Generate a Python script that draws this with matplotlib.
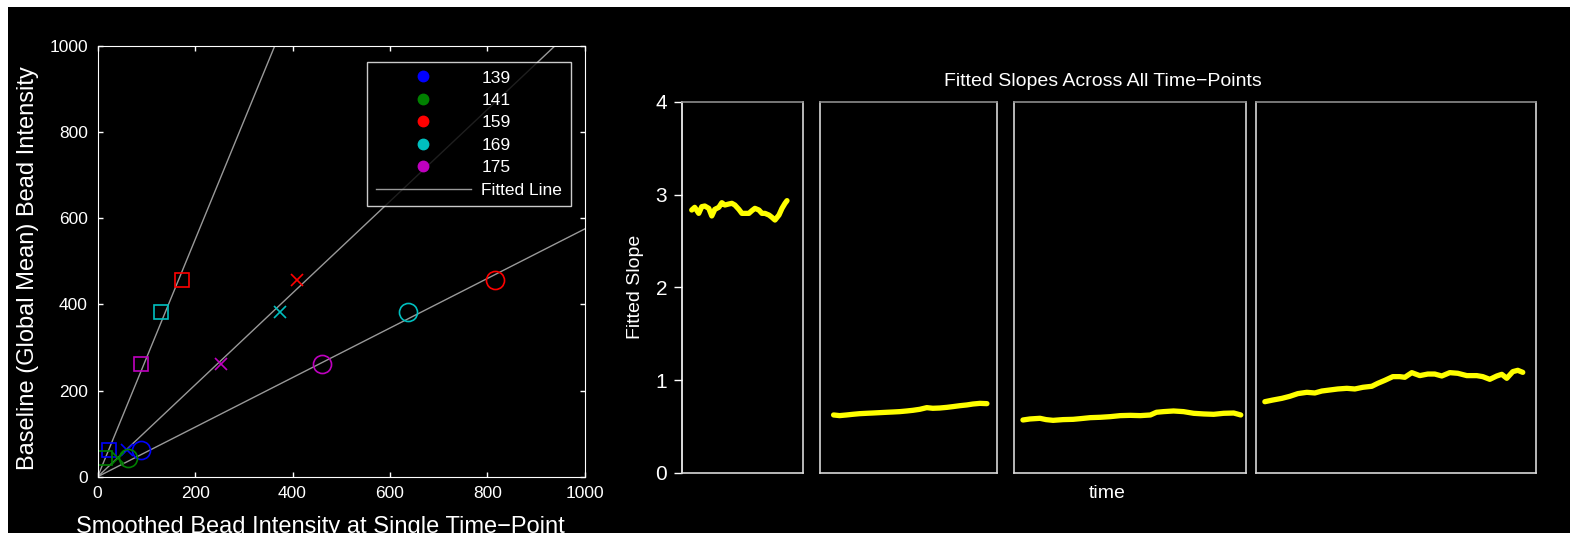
import matplotlib

matplotlib.use("Agg")
import matplotlib.pyplot as plt
from matplotlib import font_manager
from matplotlib.lines import Line2D
from matplotlib.patches import Rectangle
import numpy as np

# bead intensities: baseline vs. smoothed single time-point, three time-points
BEADS = ["139", "141", "159", "169", "175"]
BEAD_COLORS = ["#0000ff", "#008000", "#ff0000", "#00bfbf", "#bf00bf"]
BASELINE = [63, 44, 456, 383, 262]
SMOOTHED_SQUARE = [24, 15, 174, 130, 90]
SMOOTHED_CROSS = [60, 42, 410, 375, 254]
SMOOTHED_CIRCLE = [89, 63, 816, 637, 460]
FIT_SLOPES = [2.75, 1.065, 0.575]

# fitted slope traces, one list per time segment
SEG1_T = [0, 3, 7, 10, 13, 17, 20, 23, 27, 30, 33, 37, 40, 43, 47, 50, 53, 57,
          60, 63, 67, 70, 73, 77, 80, 83, 87, 90, 93, 95]
SEG1_SLOPE = [2.833, 2.862, 2.797, 2.869, 2.876, 2.851, 2.769, 2.840, 2.862,
              2.912, 2.887, 2.898, 2.905, 2.887, 2.840, 2.797, 2.797, 2.797,
              2.826, 2.851, 2.833, 2.797, 2.797, 2.779, 2.754, 2.725, 2.779,
              2.851, 2.905, 2.934]
SEG2_T = [0, 6, 13, 19, 26, 33, 39, 46, 53, 59, 66, 73, 79, 86, 93, 99, 106,
          113, 119, 126, 133, 139, 146, 153]
SEG2_SLOPE = [0.625, 0.618, 0.625, 0.632, 0.639, 0.643, 0.646, 0.650, 0.654,
              0.657, 0.661, 0.668, 0.675, 0.686, 0.704, 0.697, 0.700, 0.707,
              0.715, 0.725, 0.733, 0.743, 0.750, 0.747]
SEG3_T = [0, 7, 17, 23, 30, 40, 50, 57, 67, 77, 87, 97, 107, 117, 127, 133,
          140, 150, 160, 170, 180, 190, 200, 210, 217]
SEG3_SLOPE = [0.571, 0.582, 0.589, 0.575, 0.567, 0.575, 0.578, 0.585, 0.596,
              0.600, 0.607, 0.618, 0.621, 0.618, 0.625, 0.654, 0.661, 0.668,
              0.661, 0.643, 0.636, 0.632, 0.643, 0.646, 0.625]
SEG4_T = [0, 8, 17, 25, 33, 42, 50, 57, 65, 73, 82, 90, 98, 107, 113, 120,
          128, 135, 140, 147, 155, 163, 170, 177, 185, 193, 202, 212, 218, 225,
          232, 237, 242, 248, 253, 258]
SEG4_SLOPE = [0.768, 0.786, 0.804, 0.826, 0.855, 0.869, 0.862, 0.883, 0.894,
              0.905, 0.912, 0.905, 0.923, 0.934, 0.966, 0.998, 1.038, 1.038,
              1.031, 1.081, 1.049, 1.066, 1.066, 1.045, 1.081, 1.074, 1.049,
              1.049, 1.038, 1.009, 1.045, 1.063, 1.020, 1.092, 1.106, 1.084]
SEG_XLIM = [(-10, 111), (-14, 163), (-9, 222), (-9, 271)]

installed = {f.name for f in font_manager.fontManager.ttflist}
NARROW = "Liberation Sans Narrow" if "Liberation Sans Narrow" in installed else "Liberation Sans"
plt.rcParams["font.family"] = ["Liberation Sans", "DejaVu Sans"]

fig = plt.figure(figsize=(15.7, 5.33), dpi=100, facecolor="white")
fig.patches.append(Rectangle((7.5 / 1570, 0), 1, (533 - 6.7) / 533,
                             transform=fig.transFigure, facecolor="black",
                             edgecolor="none", zorder=-10))

# scatter of baseline vs smoothed intensity
ax = fig.add_axes([0.0622, 0.1056, 0.3103, 0.8086], facecolor="black")
xs_line = np.array([0, 1000])
for slope in FIT_SLOPES:
    ax.plot(xs_line, slope * xs_line, color="#999999", lw=1.0, zorder=1)
for i, c in enumerate(BEAD_COLORS):
    ax.plot(SMOOTHED_SQUARE[i], BASELINE[i], marker="s", ms=10.5, mfc="none",
            mec=c, mew=1.2, ls="none", zorder=2)
    ax.plot(SMOOTHED_CROSS[i], BASELINE[i], marker="x", ms=9, mec=c, mew=1.2,
            ls="none", zorder=2)
    ax.plot(SMOOTHED_CIRCLE[i], BASELINE[i], marker="o", ms=13, mfc="none",
            mec=c, mew=1.2, ls="none", zorder=2)
ax.set_xlim(0, 1000)
ax.set_ylim(0, 1000)
ax.set_xticks(range(0, 1001, 200))
ax.set_yticks(range(0, 1001, 200))
ax.tick_params(direction="in", length=3.6, width=1, colors="white",
               labelsize=12.5, top=True, right=True, pad=7)
for s in ax.spines.values():
    s.set_color("white")
ax.set_xlabel("Smoothed Bead Intensity at Single Time\u2212Point", color="white",
              fontsize=17, labelpad=11)
ax.xaxis.set_label_coords(0.4575, -0.09)
ax.set_ylabel("Baseline (Global Mean) Bead Intensity", color="white",
              fontsize=17, labelpad=5)
ax.yaxis.set_label_coords(-0.121, 0.484)

handles = [Line2D([], [], marker="o", ms=7.5, color=c, ls="none") for c in BEAD_COLORS]
handles.append(Line2D([], [], color="#999999", lw=1.0))
leg = ax.legend(handles, BEADS + ["Fitted Line"], loc="upper right",
                bbox_to_anchor=(0.9717, 0.9629), borderaxespad=0, fontsize=12.5,
                frameon=True, fancybox=False, facecolor="black", edgecolor="white",
                labelcolor="white", handlelength=5.5, handletextpad=0.6,
                labelspacing=0.42, borderpad=0.5)
leg.get_frame().set_linewidth(1.0)

# fitted slopes per time segment
panels = [
    (0.4342, 0.0773, SEG1_T, SEG1_SLOPE),
    (0.5220, 0.1130, SEG2_T, SEG2_SLOPE),
    (0.6458, 0.1477, SEG3_T, SEG3_SLOPE),
    (0.7999, 0.1783, SEG4_T, SEG4_SLOPE),
]
for k, (left, width, t, slope) in enumerate(panels):
    pa = fig.add_axes([left, 0.1126, width, 0.6966], facecolor="black")
    pa.plot(t, slope, color="#ffff00", lw=3.8, solid_capstyle="round",
            solid_joinstyle="round")
    pa.set_xlim(*SEG_XLIM[k])
    pa.set_ylim(0, 4)
    pa.set_xticks([])
    for name, s in pa.spines.items():
        s.set_color("#8c8c8c" if name == "top" else "#d8d8d8")
        s.set_linewidth(1.2)
    if k == 0:
        pa.spines["left"].set_color("white")
        pa.set_yticks([0, 1, 2, 3, 4])
        pa.tick_params(axis="y", direction="out", length=5.5, width=1,
                       colors="white", pad=5)
        for lab in pa.get_yticklabels():
            lab.set_fontfamily(NARROW)
            lab.set_fontsize(15)
        pa.set_ylabel("Fitted Slope", color="white", fontsize=14, labelpad=8)
    else:
        pa.set_yticks([])

fig.text(0.7022, 0.848, "Fitted Slopes Across All Time\u2212Points", color="white",
         fontsize=14, family=NARROW, ha="center", va="center")
fig.text(0.7050, 0.075, "time", color="white", fontsize=14, family=NARROW,
         ha="center", va="center")

fig.savefig("out.png", dpi=100, facecolor=fig.get_facecolor())
